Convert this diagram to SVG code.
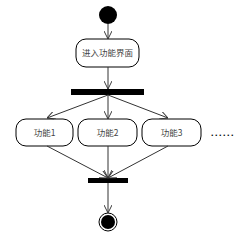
<svg xmlns="http://www.w3.org/2000/svg" width="242" height="244" viewBox="0 0 242 244">
<style>
.box{fill:#fff;stroke:#000;stroke-width:1}
.lbl{font-family:"Noto Sans CJK SC","Liberation Sans",sans-serif;font-size:8.5px;fill:#444;text-anchor:middle}
.ln{stroke:#333;stroke-width:1;fill:none}
</style>
<defs>
<marker id="ah" viewBox="0 0 10 10" refX="10" refY="5" markerWidth="8" markerHeight="8" orient="auto" markerUnits="userSpaceOnUse">
<path d="M0,0 L10,5 L0,10" fill="none" stroke="#333" stroke-width="1.2"/>
</marker>
</defs>
<g id="start"><circle cx="108" cy="15" r="9" fill="#000"/></g>
<g id="enter"><rect class="box" x="76" y="39" width="63" height="28" rx="10"/><text class="lbl" x="107.5" y="56">进入功能界面</text></g>
<g id="fork"><rect x="71" y="89" width="73" height="6" fill="#000"/></g>
<g id="f1"><rect class="box" x="16" y="119" width="57" height="27" rx="10"/><text class="lbl" x="44.5" y="135.5">功能1</text></g>
<g id="f2"><rect class="box" x="78" y="119" width="59" height="27" rx="10"/><text class="lbl" x="107.5" y="135.5">功能2</text></g>
<g id="f3"><rect class="box" x="142" y="119" width="59" height="27" rx="10"/><text class="lbl" x="171.5" y="135.5">功能3</text></g>
<g id="more"><text x="211" y="136" font-family="Liberation Sans,sans-serif" font-size="9" font-weight="bold" letter-spacing="1.5" fill="#000">......</text></g>
<g id="join"><rect x="88" y="178" width="40" height="5" fill="#000"/></g>
<g id="end"><circle cx="108" cy="222" r="9" fill="#fff" stroke="#000" stroke-width="1"/><circle cx="108" cy="222" r="7" fill="#000"/></g>
<g id="connectors">
<line class="ln" x1="108" y1="24" x2="108" y2="39" marker-end="url(#ah)"/>
<line class="ln" x1="108" y1="67" x2="108" y2="89" marker-end="url(#ah)"/>
<line class="ln" x1="108" y1="95" x2="47" y2="118" marker-end="url(#ah)"/>
<line class="ln" x1="108" y1="95" x2="108" y2="119" marker-end="url(#ah)"/>
<line class="ln" x1="108" y1="95" x2="168" y2="118" marker-end="url(#ah)"/>
<line class="ln" x1="47" y1="146" x2="108" y2="178" marker-end="url(#ah)"/>
<line class="ln" x1="108" y1="146" x2="108" y2="178" marker-end="url(#ah)"/>
<line class="ln" x1="168" y1="146" x2="108" y2="178" marker-end="url(#ah)"/>
<line class="ln" x1="108" y1="183" x2="108" y2="213" marker-end="url(#ah)"/>
</g>
</svg>
